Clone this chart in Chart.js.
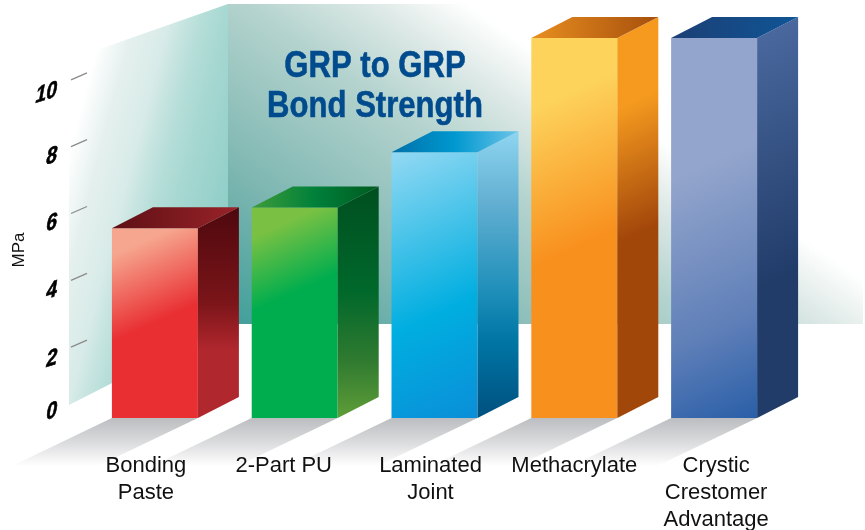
<!DOCTYPE html>
<html>
<head>
<meta charset="utf-8">
<style>html,body{margin:0;padding:0;background:#fff}canvas{display:block}</style>
<script src="https://cdn.jsdelivr.net/npm/chart.js@4"></script>
</head>
<body>
<canvas id="c" width="865" height="530"></canvas>
<script>
// ---- data ----
const categories = [["Bonding","Paste"],["2-Part PU"],["Laminated","Joint"],["Methacrylate"],["Crystic","Crestomer","Advantage"]];
const values = [5.68, 6.3, 7.95, 11.37, 11.37];
const tickValues = [0, 2, 4, 6, 8, 10];
const tickLabels = ["0", "2", "4", "6", "8", "10"];
const axisTitle = "MPa";
const titleLines = ["GRP to GRP", "Bond Strength"];

// ---- styling ----
const SANS = '"Liberation Sans",sans-serif';
const depthX = 41, depthY = 21;
const halfBar = 43;
const labelNudge = [-9, -11, -4, 0, 2];
const tickLabelNudge = [-8, 6, 5, 4, 4, 6];
const frontStops = [
  [[0,'#F6A68F'],[.12,'#F6A68F'],[.5,'#E92F32'],[1,'#E92F32']],
  [[0,'#7AC143'],[.12,'#7AC143'],[.42,'#00AD4E'],[1,'#00AD4E']],
  [[0,'#93D9F3'],[.6,'#00AEE0'],[1,'#0A8FD8']],
  [[0,'#FDD35C'],[.17,'#FDD35C'],[.55,'#F8901E'],[1,'#F8901E']],
  [[0,'#93A5CC'],[.34,'#93A5CC'],[.75,'#5F7FB8'],[1,'#2A5FA8']]
];
const sideStops = [
  [[0,'#4E080E'],[.45,'#7A1519'],[.68,'#B1272E'],[1,'#B1272E']],
  [[0,'#004F1F'],[.45,'#00682B'],[.75,'#2F7A30'],[1,'#5F9D38']],
  [[0,'#8ED5F0'],[.25,'#62AFD2'],[.55,'#2090BA'],[.73,'#0076A5'],[1,'#00507F']],
  [[0,'#F59A1F'],[.22,'#F59A1F'],[.54,'#A2470A'],[1,'#A2470A']],
  [[0,'#4D6BA2'],[.65,'#213C69'],[1,'#213C69']]
];
const topStops = [
  [[0,'#5D1015'],[1,'#9A2329']],
  [[0,'#3F9C3A'],[.5,'#00803A'],[1,'#005A20']],
  [[0,'#0070A8'],[.5,'#0098D0'],[1,'#6EC5E8']],
  [[0,'#E88E20'],[1,'#A64F0C']],
  [[0,'#1C3F75'],[1,'#0F5596']]
];

function grad(c, x0, y0, x1, y1, stops) {
  const g = c.createLinearGradient(x0, y0, x1, y1);
  stops.forEach(s => g.addColorStop(s[0], s[1]));
  return g;
}
function poly(c, pts, fill) {
  c.beginPath();
  pts.forEach((p, i) => i ? c.lineTo(p[0], p[1]) : c.moveTo(p[0], p[1]));
  c.closePath();
  c.fillStyle = fill;
  c.fill();
}
function diag(c, x, y, w, h, stops) {
  const ux = .41, uy = .91, L = w * ux + h * uy;
  return grad(c, x, y, x + ux * L, y + uy * L, stops);
}

const scene = {
  id: 'scene',
  afterLayout(chart) {
    chart.scales.x.getLabelItems().forEach((it, i) => { it.options.translation[0] += labelNudge[i]; });
  },
  beforeDraw(chart) {
    const c = chart.ctx, sy = chart.scales.y;
    const base = sy.getPixelForValue(0);
    c.save();
    // back wall
    poly(c, [[228,4],[540,4],[863,250],[863,324],[228,324]],
      grad(c, 228, 324, 228 + .57 * 400, 324 - .82 * 400,
        [[0,'#3F9E99'],[.32,'#7DB6B1'],[.68,'#B4D3CE'],[.86,'#DDE9E6'],[1,'#FFFFFF']]));
    // left wall
    poly(c, [[228,4],[97,50],[69,130],[69,405],[228,324]],
      grad(c, 102, 26, 267, 69,
        [[0,'#FFFFFF'],[.18,'#E4F0EE'],[.37,'#D8EBE8'],[.46,'#C6E4E0'],[.57,'#B4DDD8'],[.68,'#A8D8D2'],[1,'#8FCDC7']]));
    // floor shadows
    chart.getDatasetMeta(0).data.forEach(b => {
      const x0 = b.x - halfBar, x1 = b.x + halfBar;
      poly(c, [[x0,base],[x1,base],[x1-100,base+48],[x0-100,base+48]],
        grad(c, 0, base, 0, base + 48, [[0,'#BCBDC0'],[.5,'#DADBDD'],[1,'#FFFFFF']]));
    });
    // title
    c.fillStyle = '#004B8D';
    c.strokeStyle = '#004B8D';
    c.lineWidth = .6;
    c.font = 'bold 37px ' + SANS;
    c.textAlign = 'center';
    c.textBaseline = 'middle';
    c.save();
    c.translate(375, 0);
    c.scale(.84, 1);
    titleLines.forEach((line, i) => {
      c.fillText(line, 0, 67 + 40 * i);
      c.strokeText(line, 0, 67 + 40 * i);
    });
    c.restore();
    // axis title
    c.save();
    c.translate(19, 250);
    c.rotate(-Math.PI / 2);
    c.fillStyle = '#111';
    c.font = '17px ' + SANS;
    c.fillText(axisTitle, 0, 0);
    c.restore();
    // tick marks and skewed tick labels
    sy.ticks.forEach((t, i) => {
      const y = sy.getPixelForValue(t.value);
      if (t.value > 0) {
        c.strokeStyle = '#8A8A8A';
        c.lineWidth = 1.2;
        c.beginPath();
        c.moveTo(71, y - 4);
        c.lineTo(87, y - 11);
        c.stroke();
      }
      c.save();
      c.transform(.8, -.25, -.18, 1, 57, y + tickLabelNudge[i]);
      c.fillStyle = '#000';
      c.strokeStyle = '#000';
      c.lineWidth = .7;
      c.font = 'bold 24px ' + SANS;
      c.textAlign = 'right';
      c.textBaseline = 'middle';
      c.fillText(t.label, 0, 0);
      c.strokeText(t.label, 0, 0);
      c.restore();
    });
    c.restore();
  },
  afterDatasetsDraw(chart) {
    const c = chart.ctx;
    c.save();
    chart.getDatasetMeta(0).data.forEach((b, i) => {
      const x1 = b.x + halfBar, x0 = b.x - halfBar, yt = b.y, yb = b.base;
      poly(c, [[x1,yt],[x1+depthX,yt-depthY],[x1+depthX,yb-depthY],[x1,yb]],
        i >= 3 ? diag(c, x1, yt - depthY, depthX, yb - yt + depthY, sideStops[i])
               : grad(c, 0, yt - depthY, 0, yb, sideStops[i]));
      poly(c, [[x0,yt],[x0+depthX,yt-depthY],[x1+depthX,yt-depthY],[x1,yt]],
        grad(c, x0, 0, x1 + depthX, 0, topStops[i]));
    });
    c.restore();
  }
};

new Chart(document.getElementById('c'), {
  type: 'bar',
  data: {
    labels: categories,
    datasets: [{
      data: values,
      barPercentage: .615,
      categoryPercentage: 1,
      borderWidth: 0,
      backgroundColor(ctx) {
        const ch = ctx.chart, i = ctx.dataIndex;
        if (!ch.scales.x || !ch.scales.y || i === undefined) return '#888';
        const x = ch.scales.x.getPixelForValue(i) - halfBar;
        const y = ch.scales.y.getPixelForValue(values[i]);
        const h = ch.scales.y.getPixelForValue(0) - y;
        if (![x, y, h].every(Number.isFinite)) return '#888';
        return diag(ch.ctx, x, y, halfBar * 2, h, frontStops[i]);
      }
    }]
  },
  options: {
    responsive: false,
    animation: false,
    events: [],
    layout: { padding: { left: 85, right: 81, top: 17, bottom: 0 } },
    plugins: { legend: { display: false }, tooltip: { enabled: false }, title: { display: false } },
    scales: {
      x: {
        grid: { display: false, drawTicks: false },
        border: { display: false },
        afterFit(s) { s.height = 112; },
        ticks: {
          autoSkip: false, maxRotation: 0, minRotation: 0, padding: 35,
          color: '#111',
          font: { family: SANS, size: 22, lineHeight: 1.22 }
        }
      },
      y: {
        min: 0, max: 12,
        grid: { display: false, drawTicks: false },
        border: { display: false },
        afterBuildTicks(s) { s.ticks = tickValues.map(v => ({ value: v })); },
        afterTickToLabelConversion(s) { s.ticks.forEach((t, i) => { t.label = tickLabels[i]; }); },
        ticks: { display: false }
      }
    }
  },
  plugins: [scene]
});
</script>
</body>
</html>
